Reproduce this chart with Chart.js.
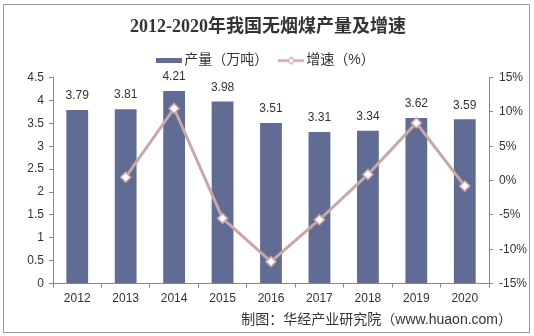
<!DOCTYPE html>
<html>
<head>
<meta charset="utf-8">
<script src="https://cdn.jsdelivr.net/npm/chart.js@4.4.1/dist/chart.umd.min.js"></script>
<style>
    html, body { margin: 0; padding: 0; background: #fff; }
</style>
</head>
<body>
<canvas id="chartMeitan" width="534" height="336"></canvas>
<script>
// 无烟煤产量（万吨）及增速（%）
const anios = ['2012', '2013', '2014', '2015', '2016', '2017', '2018', '2019', '2020'];
const produccion = [3.79, 3.81, 4.21, 3.98, 3.51, 3.31, 3.34, 3.62, 3.59];
const crecimiento = [null, 0.5, 10.5, -5.5, -11.8, -5.7, 0.9, 8.4, -0.8];
const ejeIzq = [0, 4.5, 0.5];     // min, max, paso
const ejeDer = [-15, 15, 5];

const colorBarra = '#606c94';
const colorLinea = '#c9a7a6';
const colorTexto = '#333333';
const fuente = '"Liberation Sans", Arial, "Noto Sans CJK SC", sans-serif';

// iconos de la leyenda
const iconoBarra = document.createElement('canvas');
iconoBarra.width = 26; iconoBarra.height = 5;
{
    const c = iconoBarra.getContext('2d');
    c.fillStyle = colorBarra;
    c.fillRect(0, 0, 26, 5);
}
const iconoLinea = document.createElement('canvas');
iconoLinea.width = 26; iconoLinea.height = 10;
{
    const c = iconoLinea.getContext('2d');
    c.strokeStyle = colorLinea;
    c.lineWidth = 2.5;
    c.beginPath(); c.moveTo(0, 5); c.lineTo(26, 5); c.stroke();
    c.fillStyle = '#fff';
    c.lineWidth = 1.2;
    c.beginPath();
    c.moveTo(13, 1.5); c.lineTo(16.5, 5); c.lineTo(13, 8.5); c.lineTo(9.5, 5); c.closePath();
    c.fill(); c.stroke();
}

const marco = {
    id: 'marco',
    beforeDraw(chart) {
        const { ctx } = chart;
        ctx.save();
        ctx.strokeStyle = '#9a9a9a';
        ctx.lineWidth = 1;
        ctx.strokeRect(3.5, 4.5, 526, 328);
        ctx.restore();
    },
    afterDraw(chart) {
        const { ctx } = chart;
        ctx.save();
        ctx.font = '14px ' + fuente;
        ctx.fillStyle = colorTexto;
        ctx.textAlign = 'right';
        ctx.textBaseline = 'middle';
        ctx.fillText('制图：华经产业研究院（www.huaon.com）', 512, 320);
        ctx.restore();
    }
};

const etiquetas = {
    id: 'etiquetas',
    afterDatasetsDraw(chart) {
        const { ctx } = chart;
        const meta = chart.getDatasetMeta(1);
        ctx.save();
        ctx.font = '12px ' + fuente;
        ctx.fillStyle = colorTexto;
        ctx.textAlign = 'center';
        ctx.textBaseline = 'middle';
        meta.data.forEach((barra, i) => {
            ctx.fillText(produccion[i].toFixed(2), barra.x, barra.y - 14);
        });
        ctx.restore();
    }
};

const ctx = document.getElementById('chartMeitan').getContext('2d');

const chartMeitan = new Chart(ctx, {
    data: {
        labels: anios,
        datasets: [{
            type: 'line',
            label: '增速（%）',
            data: crecimiento,
            yAxisID: 'yDer',
            borderColor: colorLinea,
            borderWidth: 3,
            pointStyle: 'rectRot',
            pointRadius: 5,
            pointBackgroundColor: '#fff',
            pointBorderColor: colorLinea,
            pointBorderWidth: 1.5,
            tension: 0
        }, {
            type: 'bar',
            label: '产量（万吨）',
            data: produccion,
            yAxisID: 'yIzq',
            backgroundColor: colorBarra,
            barPercentage: 0.45,
            categoryPercentage: 1
        }]
    },
    options: {
        responsive: false,
        animation: false,
        devicePixelRatio: 1,
        layout: { padding: { left: 8, right: 6, top: 0, bottom: 26 } },
        plugins: {
            title: {
                display: true,
                text: '2012-2020年我国无烟煤产量及增速',
                color: colorTexto,
                font: { family: '"Liberation Serif", "Noto Sans CJK SC", serif', size: 18, weight: 'bold' },
                padding: { top: 17, bottom: 0 }
            },
            legend: {
                display: true,
                labels: {
                    usePointStyle: true,
                    pointStyleWidth: 16,
                    color: colorTexto,
                    font: { family: fuente, size: 14 },
                    padding: 15,
                    generateLabels: () => [
                        { text: '产量（万吨）', pointStyle: iconoBarra, fillStyle: colorBarra, strokeStyle: colorBarra, lineWidth: 0, hidden: false, datasetIndex: 1, fontColor: colorTexto },
                        { text: '增速（%）', pointStyle: iconoLinea, fillStyle: '#fff', strokeStyle: colorLinea, lineWidth: 0, hidden: false, datasetIndex: 0, fontColor: colorTexto }
                    ]
                }
            },
            tooltip: { enabled: false }
        },
        scales: {
            x: {
                grid: { drawOnChartArea: false, drawTicks: true, tickLength: 4, color: '#888', offset: true },
                border: { display: true, color: '#888' },
                ticks: { color: colorTexto, font: { family: fuente, size: 12 }, padding: 4 }
            },
            yIzq: {
                position: 'left',
                min: ejeIzq[0],
                max: ejeIzq[1],
                grid: { drawOnChartArea: false, drawTicks: true, tickLength: 4, color: '#888' },
                border: { display: true, color: '#888' },
                ticks: { stepSize: ejeIzq[2], color: colorTexto, font: { family: fuente, size: 12 }, padding: 5, callback: (v) => String(v) },
                afterFit: (escala) => { escala.width = 45; }
            },
            yDer: {
                position: 'right',
                min: ejeDer[0],
                max: ejeDer[1],
                grid: { drawOnChartArea: false, drawTicks: true, tickLength: 4, color: '#888' },
                border: { display: true, color: '#888' },
                ticks: { stepSize: ejeDer[2], color: colorTexto, font: { family: fuente, size: 12 }, padding: 6, callback: (v) => v + '%' },
                afterFit: (escala) => { escala.width = 39; }
            }
        }
    },
    plugins: [marco, etiquetas]
});
</script>
</body>
</html>
